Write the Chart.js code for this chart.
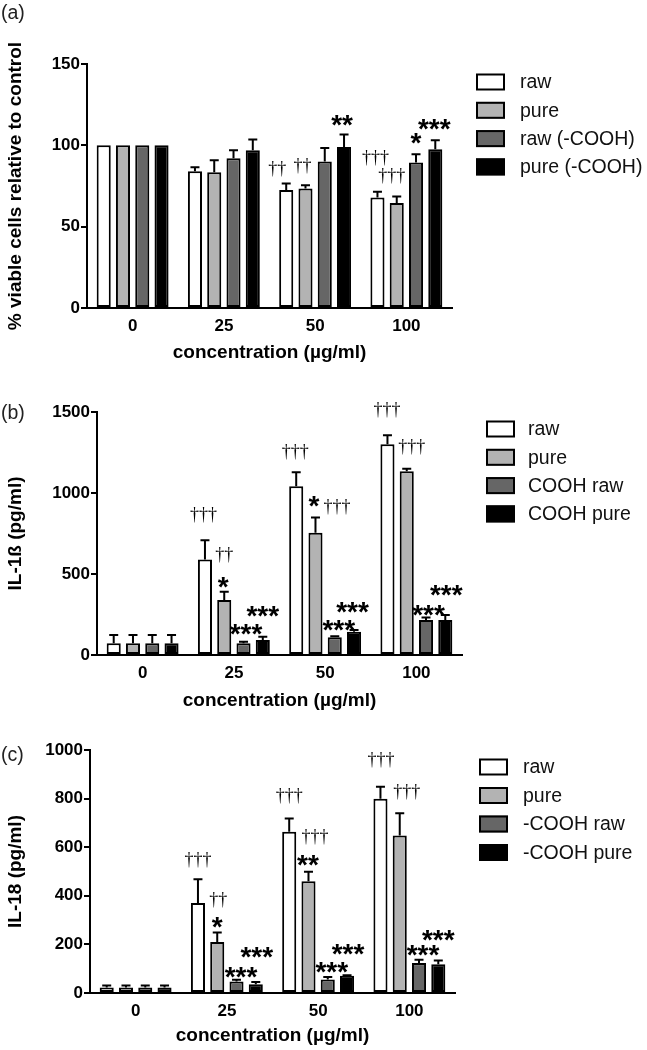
<!DOCTYPE html>
<html><head><meta charset="utf-8">
<script src="https://cdn.jsdelivr.net/npm/chart.js@4.4.1/dist/chart.umd.min.js"></script>
<style>
html,body{margin:0;padding:0;background:#fff;width:647px;height:1050px;overflow:hidden;}
.pn{position:absolute;left:0;}
</style></head>
<body>
<div class="pn" style="top:0px"><canvas id="ca" width="647" height="366"></canvas></div>
<div class="pn" style="top:366px"><canvas id="cb" width="647" height="348"></canvas></div>
<div class="pn" style="top:714px"><canvas id="cc" width="647" height="335"></canvas></div>
<script>
// ---------- data ----------
const categories = ['0', '25', '50', '100'];

const seriesA = ['raw', 'pure', 'raw (-COOH)', 'pure (-COOH)'];
const seriesB = ['raw', 'pure', 'COOH raw', 'COOH pure'];
const seriesC = ['raw', 'pure', '-COOH raw', '-COOH pure'];

// panel (a) % viable cells relative to control
const aRaw = [100, 84, 72.5, 68];
const aPure = [100, 83.5, 73.5, 64.5];
const aRawC = [100, 92, 90, 89.5];
const aPureC = [100, 97, 99, 97.6];
const aRawErr = [0, 2.6, 4, 3.4];
const aPureErr = [0, 7.3, 2, 4];
const aRawCErr = [0, 5, 8.3, 5];
const aPureCErr = [0, 6.6, 7.7, 5.5];

// panel (b) IL-1ß (pg/ml)
const bRaw = [72, 590, 1042, 1301];
const bPure = [72, 339, 754, 1134];
const bRawC = [72, 72, 109, 216];
const bPureC = [72, 92, 144, 216];
const bRawErr = [51, 119, 86, 55];
const bPureErr = [51, 51, 95, 15];
const bRawCErr = [51, 10, 6, 16];
const bPureCErr = [51, 21, 10, 31];

// panel (c) IL-18 (pg/ml)
const cRaw = [23, 370, 664, 799];
const cPure = [23, 210, 460, 648];
const cRawC = [23, 47, 56, 123];
const cPureC = [23, 36, 71, 118];
const cRawErr = [8, 98, 54, 50];
const cPureErr = [8, 39, 39, 92];
const cRawCErr = [8, 8, 10, 14];
const cPureCErr = [8, 9, 2, 16];

// significance marks: [category index, series index, text]
const marksA = [[2,0,'††'],[2,1,'††'],[2,3,'**'],[3,0,'†††'],[3,1,'†††'],[3,2,'*'],[3,3,'***']];
const marksB = [[1,0,'†††'],[1,1,'††'],[1,1,'*'],[1,2,'***'],[1,3,'***'],[2,0,'†††'],[2,1,'*'],[2,1,'†††'],[2,2,'***'],[2,3,'***'],[3,0,'†††'],[3,1,'†††'],[3,2,'***'],[3,3,'***']];
const marksC = [[1,0,'†††'],[1,1,'††'],[1,1,'*'],[1,2,'***'],[1,3,'***'],[2,0,'†††'],[2,1,'†††'],[2,1,'**'],[2,2,'***'],[2,3,'***'],[3,0,'†††'],[3,1,'†††'],[3,2,'***'],[3,3,'***']];

// ---------- styling / layout (separate from data) ----------
const offsA = [[-9,-15],[-3,-19],[-2,-17],[-2,-34],[-5,-21],[0,-19],[-1,-19]];
const offsB = [[-1.5,-25],[0,-37],[-1,-12],[2.5,-15],[0,-28],[-1,-20],[-1.5,-18.5],[21.5,-10.5],[4,-14],[-1.5,-26],[-0.5,-25],[5,-22],[2.5,-10],[1,-27]];
const offsC = [[0,-19],[1,-32],[0,-12.5],[4.5,-10],[1,-33],[0,-22.5],[6.5,-35],[-0.5,-14],[4,-12],[1,-29],[0.5,-27],[7,-21],[4,-12],[0,-28]];

const FILLS = ['#ffffff', '#b3b3b3', '#666666', '#000000'];
const SANS = '"Liberation Sans", Arial, Helvetica, sans-serif';
const SERIF = '"Liberation Serif", "Times New Roman", serif';

const errorBars = {
  id: 'errorBars',
  afterDatasetsDraw(chart, args, opts) {
    const ctx = chart.ctx, ys = chart.scales.y;
    ctx.save();
    ctx.strokeStyle = '#000'; ctx.lineWidth = 2;
    chart.data.datasets.forEach((ds, di) => {
      const meta = chart.getDatasetMeta(di);
      meta.data.forEach((el, i) => {
        const e = ds.errors[i];
        if (!e) return;
        const y0 = ys.getPixelForValue(ds.data[i]);
        const y1 = ys.getPixelForValue(ds.data[i] + e);
        ctx.beginPath();
        ctx.moveTo(el.x, y0); ctx.lineTo(el.x, y1);
        ctx.moveTo(el.x - 4.5, y1); ctx.lineTo(el.x + 4.5, y1);
        ctx.stroke();
      });
    });
    ctx.restore();
  }
};

const marksPlugin = {
  id: 'marks',
  afterDraw(chart, args, opts) {
    const ctx = chart.ctx, ys = chart.scales.y;
    ctx.save();
    ctx.fillStyle = '#000';
    ctx.textAlign = 'center';
    ctx.textBaseline = 'alphabetic';
    opts.marks.forEach((m, k) => {
      const [ci, si, txt] = m;
      const ds = chart.data.datasets[si];
      const el = chart.getDatasetMeta(si).data[ci];
      const top = ys.getPixelForValue(ds.data[ci] + (ds.errors[ci] || 0));
      const [dx, dy] = opts.offs[k];
      const cx = el.x + dx, cy = top + dy;
      if (txt.indexOf('†') >= 0) {
        ctx.font = '18px ' + SERIF;
        ctx.fillText(txt, cx, cy + 5);
      } else {
        ctx.font = 'bold 28px ' + SANS;
        ctx.fillText(txt, cx, cy + 16.5);
      }
    });
    ctx.restore();
  }
};

const legendPlugin = {
  id: 'boxLegend',
  afterDraw(chart, args, opts) {
    const ctx = chart.ctx;
    ctx.save();
    chart.data.datasets.forEach((ds, i) => {
      const cy = opts.y + i * opts.gap;
      ctx.fillStyle = ds.backgroundColor;
      ctx.fillRect(opts.x, cy - 8.5, 29, 17);
      ctx.strokeStyle = '#000'; ctx.lineWidth = 2;
      ctx.strokeRect(opts.x + 1, cy - 7.5, 27, 15);
      ctx.fillStyle = '#111';
      ctx.font = '19.5px ' + SANS;
      ctx.textAlign = 'left'; ctx.textBaseline = 'middle';
      ctx.fillText(ds.label, opts.tx, cy + 1);
    });
    ctx.restore();
  }
};

const panelLabel = {
  id: 'panelLabel',
  afterDraw(chart, args, opts) {
    const ctx = chart.ctx;
    ctx.save();
    ctx.fillStyle = '#222';
    ctx.font = '19.5px ' + SANS;
    ctx.textAlign = 'left'; ctx.textBaseline = 'middle';
    ctx.fillText(opts.text, 1, opts.y);
    ctx.restore();
  }
};

function makeChart(id, cfg) {
  const datasets = cfg.series.map((name, i) => ({
    label: name,
    data: cfg.values[i],
    errors: cfg.errors[i],
    backgroundColor: FILLS[i],
    borderColor: '#000',
    borderWidth: 2,
    borderSkipped: false,
    categoryPercentage: 0.845,
    barPercentage: 0.73
  }));
  return new Chart(document.getElementById(id), {
    type: 'bar',
    data: { labels: categories, datasets },
    plugins: [errorBars, marksPlugin, legendPlugin, panelLabel],
    options: {
      responsive: false,
      animation: false,
      devicePixelRatio: 1,
      layout: { padding: { top: cfg.top, right: cfg.right, bottom: 0, left: 0 } },
      plugins: {
        legend: { display: false },
        tooltip: { enabled: false },
        marks: { marks: cfg.marks, offs: cfg.offs },
        boxLegend: cfg.legend,
        panelLabel: cfg.label
      },
      scales: {
        x: {
          grid: { display: false, drawTicks: false },
          border: { display: true, color: '#000', width: 2 },
          ticks: { color: '#000', font: { family: SANS, size: 17, weight: 'bold' }, padding: 8 },
          title: { display: true, text: 'concentration (µg/ml)', color: '#000',
                   font: { family: SANS, size: 19, weight: 'bold' }, padding: { top: 0, bottom: 2 } },
          afterFit(s) { s.height = cfg.xh; }
        },
        y: {
          min: 0, max: cfg.max,
          grid: { display: true, drawOnChartArea: false, drawTicks: true, tickLength: 6, color: '#000', lineWidth: 2 },
          border: { display: true, color: '#000', width: 2 },
          ticks: { stepSize: cfg.step, color: '#000', font: { family: SANS, size: 17, weight: 'bold' }, padding: 1,
                   callback: (v) => String(v) },
          title: { display: true, text: cfg.ytitle, color: '#000',
                   font: { family: SANS, size: 19, weight: 'bold' }, padding: { top: 4, bottom: 0 } },
          afterFit(s) { s.width = cfg.left; }
        }
      }
    }
  });
}

makeChart('ca', {
  series: seriesA,
  values: [aRaw, aPure, aRawC, aPureC],
  errors: [aRawErr, aPureErr, aRawCErr, aPureCErr],
  marks: marksA, offs: offsA,
  max: 150, step: 50,
  ytitle: '% viable cells relative to control',
  top: 64, right: 195, left: 87, xh: 58,
  legend: { x: 476, tx: 520, y: 82, gap: 28.3 },
  label: { text: '(a)', y: 14 }
});
makeChart('cb', {
  series: seriesB,
  values: [bRaw, bPure, bRawC, bPureC],
  errors: [bRawErr, bPureErr, bRawCErr, bPureCErr],
  marks: marksB, offs: offsB,
  max: 1500, step: 500,
  ytitle: 'IL-1ß (pg/ml)',
  top: 46, right: 185, left: 97, xh: 59,
  legend: { x: 486, tx: 528, y: 63, gap: 28.3 },
  label: { text: '(b)', y: 48 }
});
makeChart('cc', {
  series: seriesC,
  values: [cRaw, cPure, cRawC, cPureC],
  errors: [cRawErr, cPureErr, cRawCErr, cPureCErr],
  marks: marksC, offs: offsC,
  max: 1000, step: 200,
  ytitle: 'IL-18 (pg/ml)',
  top: 36, right: 192, left: 90, xh: 56,
  legend: { x: 479, tx: 523, y: 53, gap: 28.5 },
  label: { text: '(c)', y: 42 }
});
</script>
</body></html>
